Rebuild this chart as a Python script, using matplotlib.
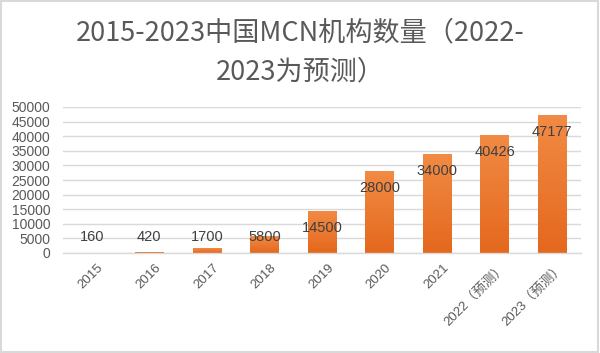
import matplotlib
matplotlib.use("Agg")
import matplotlib.pyplot as plt
import numpy as np
import matplotlib.transforms as mtransforms
from matplotlib.colors import LinearSegmentedColormap
from matplotlib.patches import Rectangle

plt.rcParams['font.family'] = ['Liberation Sans', 'Noto Sans CJK SC', 'DejaVu Sans']

categories = ['2015', '2016', '2017', '2018', '2019', '2020', '2021', '2022（预测）', '2023（预测）']
values = [160, 420, 1700, 5800, 14500, 28000, 34000, 40426, 47177]
yticks = list(range(0, 50001, 5000))
title_lines = ['2015-2023中国MCN机构数量（2022-', '2023为预测）']

fig = plt.figure(figsize=(6, 3.53), dpi=100)
fig.patch.set_facecolor('white')
fig.add_artist(Rectangle((0.002, 0.003), 0.995, 0.994, transform=fig.transFigure,
                         fill=False, edgecolor='#D9D9D9', linewidth=1.5))

ax = fig.add_axes([63/600, 1-253/353, (581-63)/600, (253-107)/353])
x = np.arange(len(categories))
bars = ax.bar(x, values, width=0.5, color='#ED7D31', zorder=2)

cmap = LinearSegmentedColormap.from_list('og', ['#E4681D', '#F28B45'])
grad = np.linspace(0, 1, 256).reshape(-1, 1)
for b in bars:
    x0, y0 = b.get_x(), b.get_y()
    w, h = b.get_width(), b.get_height()
    im = ax.imshow(grad, cmap=cmap, aspect='auto', origin='lower',
                   extent=[x0, x0 + w, y0, y0 + h], zorder=2.1)
    im.set_clip_path(b)

ax.set_xlim(-0.5, len(categories) - 0.5)
ax.set_ylim(0, 50000)
ax.set_yticks(yticks)
ax.set_yticklabels([str(t) for t in yticks], fontsize=10, color='#595959')
ax.grid(axis='y', color='#D9D9D9', linewidth=1, zorder=0)
ax.set_axisbelow(True)
for s in ['top', 'right', 'left']:
    ax.spines[s].set_visible(False)
ax.spines['bottom'].set_color('#D9D9D9')
ax.spines['bottom'].set_linewidth(1)
ax.tick_params(axis='both', length=0, pad=3)
ax.tick_params(axis='y', pad=9)

ax.set_xticks(x)
ax.set_xticklabels(categories, rotation=45, ha='right', va='top',
                   rotation_mode='anchor', fontsize=9.5, color='#595959')
offset = mtransforms.ScaledTranslation(4/72, -3/72, fig.dpi_scale_trans)
for lab in ax.get_xticklabels():
    lab.set_transform(lab.get_transform() + offset)

for xi, v in zip(x, values):
    ly = max(v - 5800, 5500)
    ax.text(xi, ly, str(v), ha='center', va='center', fontsize=10.5,
            color='#404040', zorder=3)

fig.text(0.5, 1 - 33/353, title_lines[0], ha='center', va='center', fontsize=19.5,
         family=['Noto Sans CJK SC'], fontweight='medium', color='#595959')
fig.text(0.5, 1 - 72/353, title_lines[1], ha='center', va='center', fontsize=19.5,
         family=['Noto Sans CJK SC'], fontweight='medium', color='#595959')

fig.savefig('out.png', dpi=100, facecolor='white')
